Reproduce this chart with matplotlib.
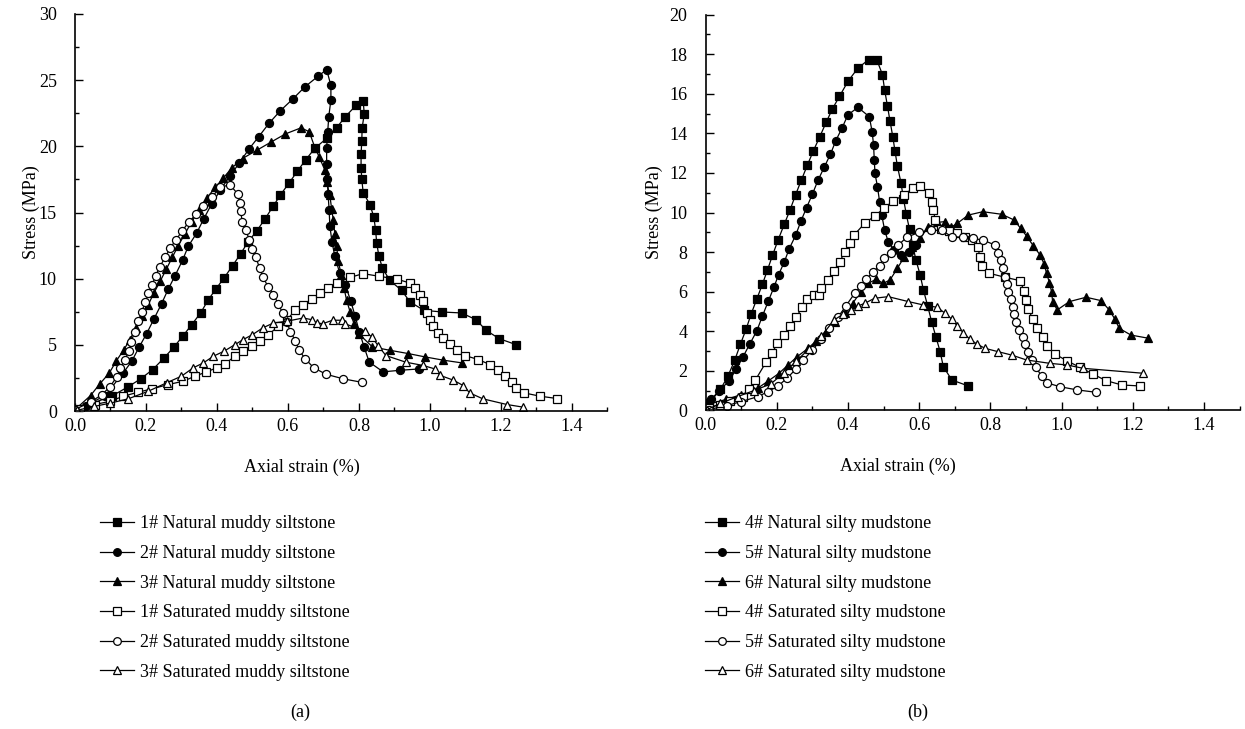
import matplotlib
matplotlib.use('Agg')
import matplotlib.pyplot as plt
from matplotlib.ticker import MultipleLocator

plt.rcParams['font.family'] = ['Liberation Serif', 'DejaVu Serif']

# ---- (a) muddy siltstone ----
n1_x = [0.0, 0.103, 0.150, 0.185, 0.219, 0.251, 0.279, 0.305, 0.329, 0.354, 0.376, 0.397, 0.420, 0.444,
        0.467, 0.488, 0.512, 0.535, 0.559, 0.579, 0.603, 0.626, 0.650, 0.676, 0.709, 0.737, 0.762, 0.792,
        0.812, 0.815, 0.809, 0.808, 0.806, 0.806, 0.808, 0.812, 0.831, 0.842, 0.847, 0.850, 0.856, 0.866,
        0.887, 0.920, 0.944, 0.983, 1.035, 1.089, 1.130, 1.158, 1.195, 1.242]
n1_y = [0.1, 1.12, 1.83, 2.43, 3.13, 4.01, 4.84, 5.70, 6.53, 7.41, 8.42, 9.22, 10.05, 10.98,
        11.89, 12.8, 13.6, 14.5, 15.5, 16.34, 17.22, 18.1, 18.98, 19.86, 20.6, 21.4, 22.25, 23.1,
        23.4, 22.45, 21.4, 20.4, 19.4, 18.4, 17.5, 16.5, 15.6, 14.65, 13.65, 12.7, 11.74, 10.8,
        9.87, 9.12, 8.24, 7.61, 7.48, 7.41, 6.9, 6.1, 5.47, 5.02]

n2_x = [0.0, 0.03, 0.085, 0.136, 0.160, 0.181, 0.202, 0.223, 0.244, 0.263, 0.282, 0.303, 0.319, 0.343,
        0.363, 0.385, 0.410, 0.436, 0.463, 0.490, 0.518, 0.547, 0.579, 0.613, 0.648, 0.685, 0.709,
        0.721, 0.721, 0.715, 0.712, 0.709, 0.709, 0.711, 0.713, 0.716, 0.718, 0.724, 0.732, 0.746,
        0.762, 0.777, 0.789, 0.801, 0.815, 0.829, 0.868, 0.917, 0.970]
n2_y = [0.1, 0.4, 1.17, 2.88, 3.76, 4.84, 5.85, 6.98, 8.11, 9.22, 10.23, 11.38, 12.44, 13.45,
        14.53, 15.64, 16.7, 17.75, 18.73, 19.79, 20.74, 21.75, 22.7, 23.56, 24.5, 25.3, 25.8,
        24.6, 23.5, 22.25, 21.1, 19.9, 18.7, 17.5, 16.4, 15.2, 14.0, 12.8, 11.7, 10.4,
        9.5, 8.3, 7.2, 6.0, 4.8, 3.7, 2.96, 3.08, 3.18]

n3_x = [0.0, 0.044, 0.070, 0.097, 0.117, 0.137, 0.155, 0.172, 0.190, 0.206, 0.222, 0.240, 0.257, 0.274,
        0.291, 0.310, 0.329, 0.350, 0.372, 0.395, 0.418, 0.441, 0.472, 0.512, 0.551, 0.593, 0.637,
        0.660, 0.676, 0.688, 0.704, 0.709, 0.718, 0.723, 0.728, 0.732, 0.737, 0.742, 0.750, 0.758,
        0.765, 0.775, 0.786, 0.801, 0.838, 0.887, 0.939, 0.986, 1.038, 1.089]
n3_y = [0.1, 1.17, 2.05, 2.88, 3.81, 4.6, 5.4, 6.3, 7.2, 8.0, 8.9, 9.8, 10.7, 11.6,
        12.5, 13.4, 14.3, 15.2, 16.1, 16.9, 17.6, 18.35, 19.08, 19.7, 20.3, 20.94, 21.4,
        21.1, 19.9, 19.2, 18.2, 17.3, 16.3, 15.3, 14.4, 13.4, 12.5, 11.3, 10.3, 9.3,
        8.4, 7.5, 6.6, 5.8, 4.84, 4.59, 4.34, 4.09, 3.84, 3.64]

s1_x = [0.014, 0.056, 0.100, 0.136, 0.178, 0.216, 0.263, 0.305, 0.338, 0.370, 0.399, 0.423, 0.451,
        0.474, 0.498, 0.521, 0.545, 0.573, 0.598, 0.620, 0.643, 0.667, 0.690, 0.714, 0.739, 0.775,
        0.812, 0.857, 0.906, 0.944, 0.958, 0.972, 0.981, 0.991, 1.0, 1.009, 1.023, 1.038, 1.056,
        1.075, 1.099, 1.136, 1.169, 1.192, 1.211, 1.230, 1.242, 1.265, 1.310, 1.359]
s1_y = [0.16, 0.49, 0.74, 1.12, 1.42, 1.67, 2.0, 2.25, 2.63, 2.95, 3.26, 3.58, 4.14,
        4.52, 4.94, 5.27, 5.77, 6.4, 6.9, 7.61, 8.04, 8.46, 8.92, 9.3, 9.67, 10.1,
        10.38, 10.18, 9.97, 9.67, 9.3, 8.79, 8.29, 7.41, 6.9, 6.45, 5.9, 5.52, 5.07,
        4.64, 4.19, 3.89, 3.51, 3.13, 2.63, 2.2, 1.75, 1.37, 1.12, 0.94]

s2_x = [0.0, 0.045, 0.075, 0.099, 0.118, 0.128, 0.140, 0.152, 0.159, 0.168, 0.178, 0.188, 0.198,
        0.207, 0.217, 0.227, 0.239, 0.254, 0.268, 0.285, 0.302, 0.321, 0.341, 0.360, 0.386, 0.410,
        0.436, 0.459, 0.464, 0.467, 0.471, 0.481, 0.491, 0.500, 0.510, 0.520, 0.530, 0.544, 0.559,
        0.573, 0.585, 0.597, 0.607, 0.621, 0.631, 0.649, 0.672, 0.707, 0.756, 0.808]
s2_y = [0.1, 0.71, 1.21, 1.84, 2.6, 3.23, 3.86, 4.5, 5.25, 6.0, 6.77, 7.5, 8.2,
        8.9, 9.5, 10.2, 10.9, 11.6, 12.3, 12.95, 13.6, 14.3, 14.85, 15.5, 16.2, 16.9,
        17.1, 16.4, 15.7, 15.1, 14.3, 13.7, 12.95, 12.25, 11.6, 10.8, 10.1, 9.4, 8.8,
        8.1, 7.4, 6.7, 6.0, 5.3, 4.6, 3.94, 3.28, 2.78, 2.43, 2.17]

s3_x = [0.005, 0.055, 0.100, 0.150, 0.207, 0.258, 0.300, 0.333, 0.362, 0.390, 0.420, 0.451, 0.474,
        0.500, 0.529, 0.559, 0.596, 0.643, 0.667, 0.681, 0.698, 0.726, 0.751, 0.760, 0.817, 0.836,
        0.854, 0.876, 0.932, 0.981, 1.014, 1.028, 1.066, 1.094, 1.112, 1.149, 1.217, 1.263]
s3_y = [0.05, 0.35, 0.6, 0.92, 1.5, 2.13, 2.63, 3.26, 3.64, 4.14, 4.52, 5.02, 5.4,
        5.77, 6.28, 6.65, 6.78, 7.03, 6.9, 6.65, 6.6, 6.86, 6.86, 6.6, 6.03, 5.6,
        4.94, 4.19, 3.69, 3.44, 3.18, 2.70, 2.33, 1.92, 1.37, 0.92, 0.49, 0.29]

# ---- (b) silty mudstone ----
n4_x = [0.011, 0.042, 0.063, 0.082, 0.098, 0.114, 0.128, 0.144, 0.160, 0.174, 0.188, 0.204, 0.221,
        0.237, 0.253, 0.269, 0.286, 0.303, 0.321, 0.339, 0.356, 0.376, 0.401, 0.428, 0.458, 0.481,
        0.497, 0.503, 0.511, 0.518, 0.526, 0.532, 0.539, 0.549, 0.556, 0.564, 0.573, 0.582, 0.591,
        0.603, 0.612, 0.624, 0.635, 0.647, 0.659, 0.668, 0.692, 0.738]
n4_y = [0.39, 1.07, 1.74, 2.54, 3.35, 4.11, 4.87, 5.63, 6.39, 7.10, 7.83, 8.62, 9.40,
        10.11, 10.9, 11.63, 12.39, 13.12, 13.83, 14.56, 15.22, 15.86, 16.65, 17.29, 17.72, 17.72,
        16.96, 16.2, 15.38, 14.64, 13.83, 13.12, 12.34, 11.5, 10.7, 9.9, 9.15, 8.35, 7.6,
        6.84, 6.09, 5.28, 4.49, 3.73, 2.97, 2.21, 1.54, 1.24]

n5_x = [0.016, 0.037, 0.066, 0.086, 0.105, 0.124, 0.144, 0.160, 0.176, 0.192, 0.205, 0.221, 0.235,
        0.253, 0.268, 0.284, 0.300, 0.316, 0.334, 0.351, 0.366, 0.384, 0.400, 0.428, 0.460, 0.468,
        0.472, 0.474, 0.476, 0.483, 0.489, 0.495, 0.503, 0.513, 0.530, 0.550, 0.572, 0.592]
n5_y = [0.56, 0.98, 1.49, 2.08, 2.7, 3.35, 4.02, 4.78, 5.51, 6.22, 6.85, 7.49, 8.17,
        8.84, 9.57, 10.25, 10.92, 11.63, 12.31, 12.95, 13.63, 14.29, 14.93, 15.31, 14.84, 14.08,
        13.41, 12.65, 11.97, 11.3, 10.53, 9.87, 9.12, 8.53, 8.1, 7.85, 8.0, 8.35]

n6_x = [0.005, 0.058, 0.100, 0.146, 0.176, 0.205, 0.232, 0.256, 0.288, 0.311, 0.339, 0.365, 0.391,
        0.413, 0.436, 0.456, 0.480, 0.499, 0.518, 0.539, 0.558, 0.579, 0.603, 0.626, 0.650, 0.673,
        0.690, 0.707, 0.738, 0.779, 0.832, 0.867, 0.885, 0.902, 0.921, 0.940, 0.951, 0.958, 0.966,
        0.972, 0.975, 0.988, 1.022, 1.069, 1.111, 1.134, 1.150, 1.162, 1.195, 1.244]
n6_y = [0.3, 0.56, 0.8, 1.12, 1.49, 1.86, 2.3, 2.7, 3.14, 3.52, 3.98, 4.45, 4.91,
        5.4, 6.0, 6.42, 6.63, 6.42, 6.59, 7.18, 7.75, 8.27, 8.7, 9.28, 9.5, 9.54,
        9.26, 9.45, 9.87, 10.04, 9.91, 9.62, 9.2, 8.81, 8.31, 7.85, 7.4, 6.93, 6.46,
        6.0, 5.5, 5.08, 5.5, 5.72, 5.55, 5.08, 4.61, 4.15, 3.81, 3.65]

s4_x = [0.01, 0.04, 0.07, 0.105, 0.122, 0.140, 0.171, 0.187, 0.202, 0.221, 0.238, 0.255, 0.271,
        0.286, 0.305, 0.318, 0.325, 0.344, 0.361, 0.377, 0.391, 0.405, 0.417, 0.447, 0.475, 0.501,
        0.526, 0.558, 0.582, 0.603, 0.629, 0.635, 0.640, 0.645, 0.661, 0.684, 0.707, 0.729, 0.748,
        0.764, 0.771, 0.776, 0.797, 0.841, 0.883, 0.895, 0.900, 0.907, 0.919, 0.932, 0.947, 0.960,
        0.982, 1.015, 1.052, 1.088, 1.125, 1.169, 1.220]
s4_y = [0.15, 0.3, 0.5, 0.7, 1.1, 1.54, 2.47, 2.92, 3.39, 3.81, 4.25, 4.71, 5.21,
        5.62, 5.83, 5.83, 6.17, 6.59, 7.06, 7.52, 8.0, 8.44, 8.86, 9.45, 9.82, 10.21,
        10.57, 10.9, 11.22, 11.34, 10.97, 10.55, 10.13, 9.62, 9.15, 9.05, 8.98, 8.75, 8.61,
        8.27, 7.77, 7.3, 6.93, 6.73, 6.56, 6.05, 5.58, 5.11, 4.62, 4.18, 3.73, 3.26,
        2.85, 2.51, 2.18, 1.84, 1.51, 1.29, 1.24]

s5_x = [0.01, 0.06, 0.10, 0.147, 0.175, 0.204, 0.230, 0.253, 0.275, 0.300, 0.325, 0.348, 0.372,
        0.395, 0.419, 0.437, 0.452, 0.470, 0.489, 0.500, 0.522, 0.542, 0.565, 0.600, 0.632, 0.663,
        0.692, 0.722, 0.750, 0.780, 0.813, 0.822, 0.829, 0.835, 0.841, 0.846, 0.851, 0.857, 0.863,
        0.867, 0.872, 0.881, 0.891, 0.898, 0.907, 0.917, 0.928, 0.944, 0.958, 0.996, 1.044, 1.097]
s5_y = [0.05, 0.25, 0.45, 0.7, 0.95, 1.24, 1.65, 2.08, 2.55, 3.05, 3.59, 4.15, 4.71,
        5.3, 5.92, 6.3, 6.63, 7.0, 7.3, 7.7, 7.97, 8.36, 8.75, 9.0, 9.1, 9.1,
        8.78, 8.75, 8.7, 8.6, 8.36, 7.97, 7.6, 7.18, 6.76, 6.39, 6.0, 5.62, 5.24,
        4.87, 4.49, 4.08, 3.73, 3.35, 2.97, 2.55, 2.18, 1.74, 1.4, 1.2, 1.04, 0.92]

s6_x = [0.005, 0.042, 0.09, 0.135, 0.183, 0.22, 0.255, 0.29, 0.325, 0.361, 0.385, 0.410, 0.428,
        0.447, 0.475, 0.513, 0.570, 0.612, 0.651, 0.673, 0.692, 0.707, 0.724, 0.743, 0.762, 0.785,
        0.822, 0.860, 0.902, 0.968, 1.015, 1.061, 1.230]
s6_y = [0.05, 0.36, 0.7, 1.0, 1.34, 1.9, 2.5, 3.1, 3.75, 4.57, 4.85, 5.08, 5.28,
        5.41, 5.67, 5.75, 5.5, 5.33, 5.21, 4.91, 4.61, 4.27, 3.93, 3.59, 3.36, 3.14,
        2.97, 2.8, 2.55, 2.38, 2.3, 2.13, 1.88]

labels_a = ['1# Natural muddy siltstone', '2# Natural muddy siltstone', '3# Natural muddy siltstone',
            '1# Saturated muddy siltstone', '2# Saturated muddy siltstone', '3# Saturated muddy siltstone']
labels_b = ['4# Natural silty mudstone', '5# Natural silty mudstone', '6# Natural silty mudstone',
            '4# Saturated silty mudstone', '5# Saturated silty mudstone', '6# Saturated silty mudstone']

markers = ['s', 'o', '^', 's', 'o', '^']
faces = ['black', 'black', 'black', 'white', 'white', 'white']


def draw_panel(ax, series, labels, ymax, ymajor, yminor):
  lines = []
  for (xs, ys), lab, m, fc in zip(series, labels, markers, faces):
    ln, = ax.plot(xs, ys, color='black', lw=0.9, marker=m, markersize=5.8,
                  markerfacecolor=fc, markeredgecolor='black', markeredgewidth=0.9, label=lab)
    lines.append(ln)
  ax.set_xlim(0, 1.5)
  ax.set_ylim(0, ymax)
  ax.set_xticks([0.0, 0.2, 0.4, 0.6, 0.8, 1.0, 1.2, 1.4])
  ax.xaxis.set_minor_locator(MultipleLocator(0.1))
  ax.yaxis.set_major_locator(MultipleLocator(ymajor))
  ax.yaxis.set_minor_locator(MultipleLocator(yminor))
  ax.tick_params(which='major', direction='in', length=6, width=1, labelsize=13)
  ax.tick_params(axis='y', which='major', pad=13)
  ax.tick_params(axis='x', which='major', pad=5)
  ax.tick_params(which='minor', direction='in', length=3, width=1)
  ax.spines['top'].set_visible(False)
  ax.spines['right'].set_visible(False)
  ax.spines['left'].set_linewidth(1.2)
  ax.spines['bottom'].set_linewidth(1.2)
  ax.set_ylabel('Stress (MPa)', fontsize=13)
  ax.set_xlabel('Axial strain (%)', fontsize=13)
  return lines


fig = plt.figure(figsize=(12.45, 7.29), dpi=100)
ax1 = fig.add_axes([0.0602, 0.4362, 0.4277, 0.5446])
ax2 = fig.add_axes([0.5667, 0.4369, 0.4289, 0.5432])

lines_a = draw_panel(ax1, [(n1_x, n1_y), (n2_x, n2_y), (n3_x, n3_y), (s1_x, s1_y), (s2_x, s2_y), (s3_x, s3_y)],
                     labels_a, 30, 5, 2.5)
lines_b = draw_panel(ax2, [(n4_x, n4_y), (n5_x, n5_y), (n6_x, n6_y), (s4_x, s4_y), (s5_x, s5_y), (s6_x, s6_y)],
                     labels_b, 20, 2, 1)

ax1.xaxis.set_label_coords(0.426, -0.12)
ax2.xaxis.set_label_coords(0.36, -0.12)
ax1.yaxis.set_label_coords(-0.066, 0.5)
ax2.yaxis.set_label_coords(-0.08, 0.5)

for lines, labs, xpos in [(lines_a, labels_a, 0.080), (lines_b, labels_b, 0.566)]:
  fig.legend(lines, labs, loc='upper left', bbox_to_anchor=(xpos, 0.293), frameon=False,
             fontsize=13, handlelength=1.9, handletextpad=0.35, labelspacing=0.70, borderpad=0,
             borderaxespad=0, markerscale=0.95)

fig.text(0.241, 0.023, '(a)', ha='center', va='center', fontsize=13)
fig.text(0.737, 0.023, '(b)', ha='center', va='center', fontsize=13)

fig.savefig('out.png', dpi=100)
